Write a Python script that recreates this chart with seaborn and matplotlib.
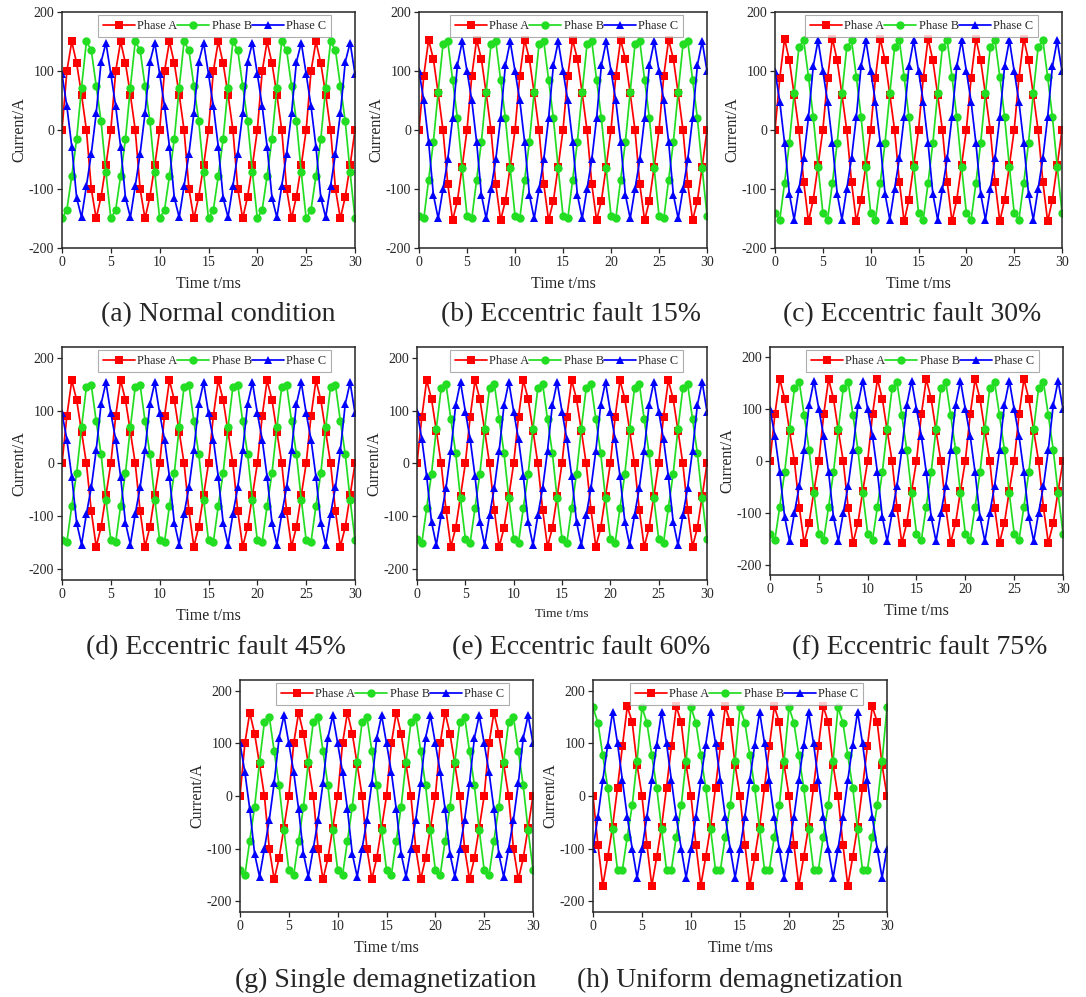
import numpy as np
import pandas as pd
import seaborn as sns
import matplotlib.pyplot as plt

# one 5 ms cycle of marker values (0.5 ms step)
t_step = 0.5
n_cycles = 6

a_A = [0, 100, 150, 113, 60, 0, -100, -150, -113, -60]
a_B = [-150, -135, -78, -15, 72, 150, 135, 75, 15, -72]
a_C = [95, 40, -28, -115, -148, -95, -40, 28, 115, 148]

b_A = [0, 92, 153, 120, 62, 0, -92, -153, -120, -62]
b_B = [-145, -150, -85, -20, 65, 145, 150, 85, 20, -65]
b_C = [100, 50, -20, -110, -150, -100, -50, 20, 110, 150]

c_A = [0, 88, 155, 118, 60, 0, -88, -155, -118, -60]
c_B = [-140, -152, -90, -22, 62, 140, 152, 90, 22, -62]
c_C = [100, 48, -22, -108, -152, -100, -48, 22, 108, 152]

d_A = [0, 90, 157, 120, 60, 0, -90, -157, -120, -60]
d_B = [-145, -148, -80, -18, 68, 145, 148, 80, 18, -68]
d_C = [95, 45, -25, -112, -153, -95, -45, 25, 112, 153]

e_A = [0, 88, 157, 122, 62, 0, -88, -157, -122, -62]
e_B = [-142, -150, -84, -20, 66, 142, 150, 84, 20, -66]
e_C = [98, 46, -24, -110, -154, -98, -46, 24, 110, 154]

f_A = [0, 90, 158, 120, 58, 0, -90, -158, -120, -58]
f_B = [-140, -152, -88, -22, 62, 140, 152, 88, 22, -62]
f_C = [100, 48, -22, -108, -155, -100, -48, 22, 108, 155]

g_A = [0, 100, 158, 118, 60, 0, -100, -158, -118, -60]
g_B = [-140, -150, -85, -20, 65, 140, 150, 85, 20, -65]
g_C = [100, 45, -25, -110, -153, -100, -45, 25, 110, 153]

h_A = [0, -92, -170, -116, -58, 16, 94, 170, 140, 59]
h_B = [168, 139, 77, 16, -63, -140, -140, -77, -18, 67]
h_C = [-100, -40, 30, 97, 160, 100, 30, -40, -100, -155]

panels = [
    ("(a) Normal condition", a_A, a_B, a_C, 200),
    ("(b) Eccentric fault 15%", b_A, b_B, b_C, 200),
    ("(c) Eccentric fault 30%", c_A, c_B, c_C, 200),
    ("(d) Eccentric fault 45%", d_A, d_B, d_C, 220),
    ("(e) Eccentric fault 60%", e_A, e_B, e_C, 220),
    ("(f) Eccentric fault 75%", f_A, f_B, f_C, 220),
    ("(g) Single demagnetization", g_A, g_B, g_C, 220),
    ("(h) Uniform demagnetization", h_A, h_B, h_C, 220),
]

# axes boxes in pixels: left, top, right, bottom ; caption centre x, caption y
boxes = [
    (62, 12, 355, 248, 218, 315),
    (419, 12, 707, 248, 571, 315),
    (775, 12, 1062, 248, 912, 315),
    (62, 347, 355, 580, 216, 648),
    (417, 347, 707, 580, 581, 648),
    (770, 347, 1063, 575, 920, 648),
    (240, 680, 533, 912, 386, 980),
    (593, 680, 887, 912, 740, 980),
]
xlabel_sizes = [11.5, 11.5, 11.5, 11.5, 9.5, 11.5, 11.5, 11.5]

colors = ["#ff0000", "#22dd22", "#0000ff"]
phases = ["Phase A", "Phase B", "Phase C"]

sns.set_style("ticks")
plt.rcParams["font.family"] = ["Liberation Serif", "DejaVu Serif"]
plt.rcParams["axes.unicode_minus"] = False

W, H = 1086, 997
fig = plt.figure(figsize=(W / 100, H / 100), dpi=100)

for (title, A, B, C, ylim), (l, t, r, b, cx, cy), xs in zip(panels, boxes, xlabel_sizes):
    ax = fig.add_axes([l / W, 1 - b / H, (r - l) / W, (b - t) / H])
    time = np.arange(len(A) * n_cycles + 1) * t_step
    frames = []
    for name, cyc in zip(phases, [A, B, C]):
        vals = list(cyc) * n_cycles + [cyc[0]]
        frames.append(pd.DataFrame({"t": time, "I": vals, "phase": name}))
    df = pd.concat(frames)
    sns.lineplot(data=df, x="t", y="I", hue="phase", style="phase",
                 markers=["s", "o", "^"], dashes=False, palette=colors,
                 markersize=6, markeredgewidth=0, linewidth=1.25, ax=ax)
    ax.set_xlim(0, 30)
    ax.set_ylim(-ylim, ylim)
    ax.set_xticks([0, 5, 10, 15, 20, 25, 30])
    ax.set_yticks([-200, -100, 0, 100, 200])
    ax.tick_params(labelsize=10, length=3.5, width=0.9, pad=2)
    for s in ax.spines.values():
        s.set_linewidth(1.1)
    ax.set_xlabel("Time t/ms", fontsize=xs, labelpad=5)
    ax.set_ylabel("Current/A", fontsize=11.5, labelpad=1)
    w_ax = r - l
    h_ax = b - t
    leg = ax.legend(loc="upper right", ncol=3, fontsize=8.8, frameon=True,
                    bbox_to_anchor=(1 - 24 / w_ax, 1 - 3 / h_ax),
                    fancybox=False, borderaxespad=0.0, columnspacing=0.0,
                    handletextpad=0.2, handlelength=2.6, borderpad=0.4)
    leg.get_frame().set_edgecolor("#999999")
    leg.get_frame().set_linewidth(0.8)
    fig.text(cx / W, 1 - cy / H, title, ha="center", va="center", fontsize=20)

fig.savefig("out.png", dpi=100)
